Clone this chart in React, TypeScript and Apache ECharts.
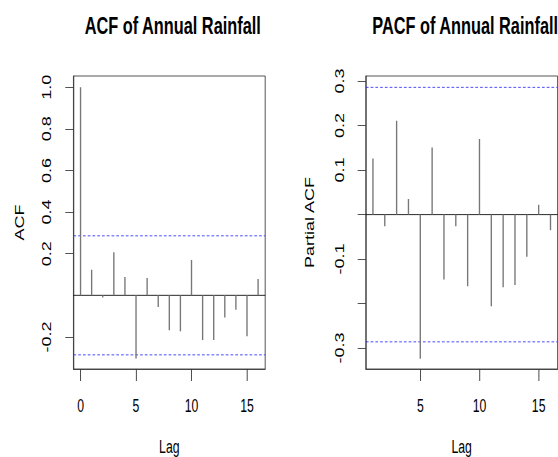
import React, { useEffect, useRef } from "react";
import * as echarts from "echarts";

// ---- data ----
const acfLags = [0, 1, 2, 3, 4, 5, 6, 7, 8, 9, 10, 11, 12, 13, 14, 15, 16];
const acfValues = [1.0, 0.123, -0.01, 0.207, 0.088, -0.304, 0.083, -0.056, -0.168, -0.173, 0.17, -0.215, -0.215, -0.106, -0.069, -0.197, 0.079];
const pacfLags = [1, 2, 3, 4, 5, 6, 7, 8, 9, 10, 11, 12, 13, 14, 15, 16];
const pacfValues = [0.126, -0.026, 0.211, 0.035, -0.324, 0.151, -0.146, -0.026, -0.161, 0.17, -0.206, -0.163, -0.158, -0.095, 0.022, -0.035];
const ciBound = 0.286;

const acfXTicks = [0, 5, 10, 15];
const pacfXTicks = [5, 10, 15];
const acfYTicks = [-0.2, 0.2, 0.4, 0.6, 0.8, 1.0];
const acfYLabels = [-0.2, 0.2, 0.4, 0.6, 0.8, 1.0];
const pacfYTicks = [-0.3, -0.2, -0.1, 0, 0.1, 0.2, 0.3];
const pacfYLabels = [-0.3, -0.1, 0.1, 0.2, 0.3];

const titles = ["ACF of Annual Rainfall", "PACF of Annual Rainfall"];
const yNames = ["ACF", "Partial ACF"];
const xName = "Lag";

// ---- layout ----
const SQUEEZE = 0.68;
const CW = 821;
const CH = 457;

export default function App() {
  const ref = useRef<HTMLDivElement>(null);

  useEffect(() => {
    const chart = echarts.init(ref.current!, null, { renderer: "svg" });
    const font = "'Liberation Sans', Arial, Helvetica, sans-serif";
    const boxColor = "#333";
    const blue = "#2a2aff";

    const spikeSeries = (lags: number[], vals: number[], idx: number) => ({
      type: "custom",
      xAxisIndex: idx,
      yAxisIndex: idx,
      data: lags.map((l, i) => [l, vals[i]]),
      renderItem: (params: any, api: any) => {
        const p0 = api.coord([api.value(0), 0]);
        const p1 = api.coord([api.value(0), api.value(1)]);
        return {
          type: "line",
          shape: { x1: p0[0], y1: p0[1], x2: p1[0], y2: p1[1] },
          style: { stroke: "#777", lineWidth: 2 },
        };
      },
      z: 3,
    });

    // horizontal reference lines spanning the plot region, positioned by the y scale
    const hLines = (idx: number, values: number[], color: string, dash: number[] | null, width: number) => ({
      type: "custom",
      xAxisIndex: idx,
      yAxisIndex: idx,
      data: values.map((v) => [0, v]),
      encode: { x: -1, y: 1 },
      silent: true,
      renderItem: (params: any, api: any) => {
        const cs = params.coordSys;
        const y = api.coord([api.value(0), api.value(1)])[1];
        return {
          type: "line",
          shape: { x1: cs.x, y1: y, x2: cs.x + cs.width, y2: y },
          style: { stroke: color, lineWidth: width, lineDash: dash || undefined, fill: null },
        };
      },
      z: 2,
    });

    const xAxis = (idx: number, min: number, max: number, ticks: number[]) => ({
      type: "value",
      gridIndex: idx,
      min,
      max,
      axisLine: { show: true, onZero: false, lineStyle: { color: boxColor, width: 1 } },
      splitLine: { show: false },
      axisTick: { show: true, length: 12, customValues: ticks, lineStyle: { color: boxColor, width: 1.3 } },
      axisLabel: {
        show: true,
        customValues: ticks,
        margin: 28,
        fontSize: 18,
        fontFamily: font,
        color: "#000",
        formatter: (v: number) => String(v),
      },
      name: xName,
      nameLocation: "middle",
      nameGap: 69,
      nameTextStyle: { fontSize: 18, fontFamily: font, color: "#000" },
    });

    const yAxis = (idx: number, min: number, max: number, ticks: number[], labels: number[], margin: number, nameGap: number) => ({
      type: "value",
      gridIndex: idx,
      min,
      max,
      axisLine: { show: true, onZero: false, lineStyle: { color: boxColor, width: 1 } },
      splitLine: { show: false },
      axisTick: { show: true, length: 12, customValues: ticks, lineStyle: { color: boxColor, width: 1 } },
      axisLabel: {
        show: true,
        customValues: labels,
        rotate: 90,
        margin,
        fontSize: 18,
        fontFamily: font,
        color: "#000",
        formatter: (v: number) => v.toFixed(1),
      },
      name: yNames[idx],
      nameLocation: "middle",
      nameGap,
      nameTextStyle: { fontSize: 18, fontFamily: font, color: "#000" },
    });

    chart.setOption({
      animation: false,
      backgroundColor: "#fff",
      title: [
        {
          text: titles[0],
          left: 249,
          top: 8,
          textAlign: "center",
          textStyle: { fontSize: 24, fontWeight: "bold", fontFamily: font, color: "#000" },
        },
        {
          text: titles[1],
          left: 679,
          top: 8,
          textAlign: "center",
          textStyle: { fontSize: 24, fontWeight: "bold", fontFamily: font, color: "#000" },
        },
      ],
      grid: [
        { left: 108, top: 76, width: 282, height: 293, show: true, borderColor: boxColor, borderWidth: 1, backgroundColor: "transparent", outerBoundsMode: "none", containLabel: false },
        { left: 538, top: 76, width: 282, height: 293, show: true, borderColor: boxColor, borderWidth: 1, backgroundColor: "transparent", outerBoundsMode: "none", containLabel: false },
      ],
      xAxis: [xAxis(0, -0.64, 16.64, acfXTicks), xAxis(1, 0.4, 16.6, pacfXTicks)],
      yAxis: [
        yAxis(0, -0.354, 1.054, acfYTicks, acfYLabels, 31, 70),
        yAxis(1, -0.347, 0.3115, pacfYTicks, pacfYLabels, 29, 73),
      ],
      series: [
        hLines(0, [0], "#000", null, 1),
        hLines(1, [0], "#000", null, 1),
        hLines(0, [ciBound, -ciBound], blue, [4, 3], 1),
        hLines(1, [ciBound, -ciBound], blue, [4, 3], 1),
        spikeSeries(acfLags, acfValues, 0),
        spikeSeries(pacfLags, pacfValues, 1),
      ],
    });

    return () => chart.dispose();
  }, []);

  return (
    <div style={{ position: "absolute", left: 0, top: 0, width: 558, height: CH, overflow: "hidden", background: "#fff" }}>
      <div
        ref={ref}
        style={{ width: CW, height: CH, transform: `scaleX(${SQUEEZE})`, transformOrigin: "0 0" }}
      />
    </div>
  );
}
